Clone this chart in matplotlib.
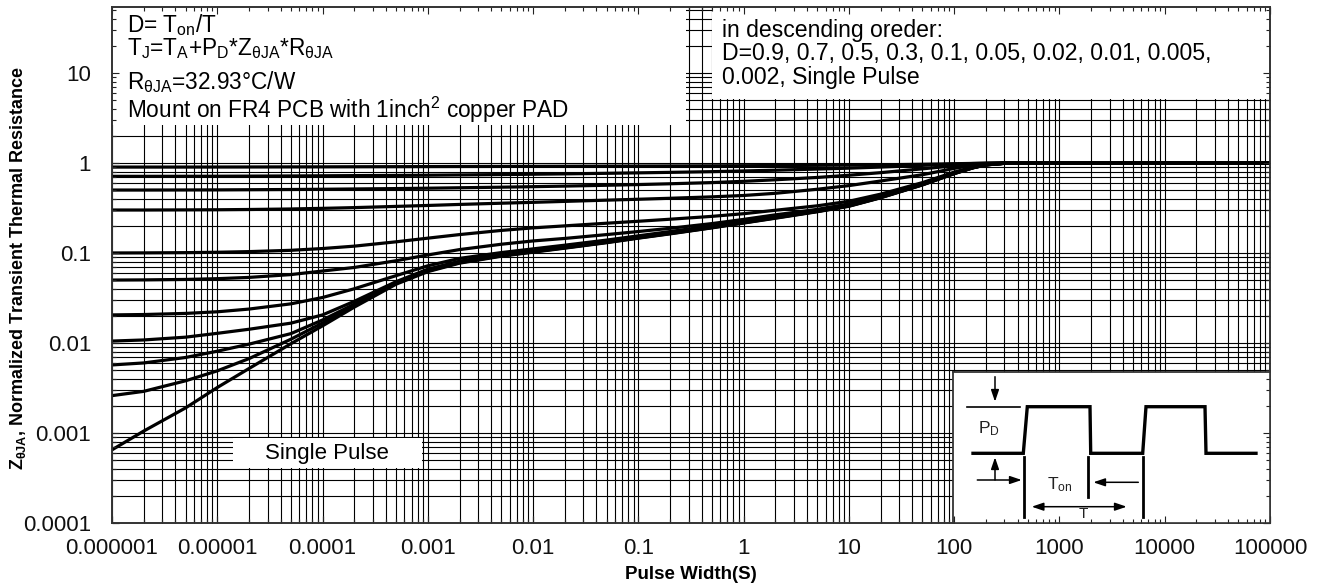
import numpy as np
import matplotlib
matplotlib.use('Agg')
import matplotlib.pyplot as plt
from matplotlib.patches import Rectangle
from matplotlib.ticker import LogLocator, FixedLocator, NullFormatter
from matplotlib.transforms import Affine2D

plt.rcParams['font.family'] = ['Liberation Sans', 'DejaVu Sans']
plt.rcParams['mathtext.fontset'] = 'custom'
plt.rcParams['mathtext.rm'] = 'Liberation Sans'
plt.rcParams['mathtext.it'] = 'Liberation Sans:italic'
plt.rcParams['mathtext.bf'] = 'Liberation Sans:bold'

# ---------------- data ----------------
pulse_width = [1e-6, 2e-6, 5e-6, 1e-5, 2e-5, 5e-5, 1e-4, 2e-4, 5e-4,
               1e-3, 2e-3, 5e-3, 1e-2, 2e-2, 5e-2, 0.1, 0.2, 0.5,
               1, 2, 5, 10, 20, 50, 100, 150, 200, 300, 500, 1000, 1e4, 1e5]

z_d09 = [0.9, 0.9, 0.9, 0.901, 0.902, 0.904, 0.905, 0.907, 0.909, 0.911, 0.913, 0.915,
         0.917, 0.919, 0.922, 0.924, 0.926, 0.929, 0.932, 0.936, 0.941, 0.946, 0.953, 0.967,
         0.98, 0.988, 0.994, 0.999, 1.0, 1.0, 1.0, 1.0]
z_d07 = [0.71, 0.71, 0.711, 0.712, 0.714, 0.717, 0.72, 0.723, 0.727, 0.731, 0.736, 0.743,
         0.749, 0.756, 0.767, 0.776, 0.786, 0.8, 0.815, 0.83, 0.855, 0.875, 0.9, 0.94,
         0.97, 0.985, 0.993, 1.0, 1.0, 1.0, 1.0, 1.0]
z_d05 = [0.5, 0.5, 0.501, 0.502, 0.504, 0.507, 0.51, 0.514, 0.519, 0.524, 0.53, 0.538,
         0.545, 0.553, 0.565, 0.575, 0.587, 0.605, 0.625, 0.65, 0.69, 0.73, 0.78, 0.86,
         0.93, 0.965, 0.985, 0.998, 1.0, 1.0, 1.0, 1.0]
z_d03 = [0.30, 0.30, 0.301, 0.302, 0.304, 0.308, 0.313, 0.319, 0.329, 0.337, 0.346, 0.357,
         0.365, 0.374, 0.386, 0.395, 0.405, 0.42, 0.435, 0.46, 0.51, 0.56, 0.63, 0.74,
         0.87, 0.94, 0.975, 0.995, 1.0, 1.0, 1.0, 1.0]
z_d01 = [0.1, 0.1002, 0.1008, 0.1018, 0.1035, 0.107, 0.112, 0.119, 0.133, 0.146, 0.16, 0.178,
         0.19, 0.2, 0.214, 0.225, 0.237, 0.255, 0.273, 0.298, 0.334, 0.375, 0.45, 0.605,
         0.79, 0.895, 0.958, 0.993, 1.0, 1.0, 1.0, 1.0]
z_d005 = [0.05, 0.0502, 0.0508, 0.0518, 0.0535, 0.0575, 0.063, 0.069, 0.082, 0.095, 0.109, 0.125,
          0.136, 0.145, 0.16, 0.173, 0.188, 0.212, 0.236, 0.265, 0.305, 0.35, 0.43, 0.59,
          0.778, 0.89, 0.955, 0.992, 1.0, 1.0, 1.0, 1.0]
z_d002 = [0.0205, 0.0207, 0.0213, 0.0222, 0.0238, 0.0272, 0.032, 0.04, 0.056, 0.072, 0.087, 0.101,
          0.111, 0.122, 0.139, 0.155, 0.173, 0.2, 0.226, 0.256, 0.298, 0.342, 0.423, 0.583,
          0.772, 0.888, 0.954, 0.992, 1.0, 1.0, 1.0, 1.0]
z_d001 = [0.0105, 0.0108, 0.0116, 0.0128, 0.0142, 0.0166, 0.0205, 0.029, 0.048, 0.066, 0.081, 0.096,
          0.106, 0.117, 0.134, 0.15, 0.168, 0.195, 0.221, 0.251, 0.293, 0.337, 0.418, 0.578,
          0.768, 0.886, 0.953, 0.991, 1.0, 1.0, 1.0, 1.0]
z_d0005 = [0.0057, 0.006, 0.0069, 0.0081, 0.0097, 0.0127, 0.018, 0.027, 0.047, 0.064, 0.079, 0.094,
           0.104, 0.115, 0.132, 0.148, 0.166, 0.193, 0.218, 0.248, 0.29, 0.334, 0.414, 0.575,
           0.765, 0.884, 0.952, 0.991, 1.0, 1.0, 1.0, 1.0]
z_d0002 = [0.0026, 0.0029, 0.0038, 0.0049, 0.0067, 0.011, 0.0167, 0.026, 0.046, 0.063, 0.078, 0.093,
           0.103, 0.114, 0.131, 0.147, 0.164, 0.191, 0.216, 0.245, 0.289, 0.332, 0.412, 0.572,
           0.762, 0.882, 0.951, 0.99, 1.0, 1.0, 1.0, 1.0]
z_single = [0.00065, 0.00105, 0.0019, 0.0032, 0.0052, 0.0098, 0.0155, 0.025, 0.045, 0.062, 0.077, 0.092,
            0.102, 0.113, 0.13, 0.146, 0.163, 0.19, 0.215, 0.243, 0.287, 0.33, 0.41, 0.57,
            0.76, 0.88, 0.95, 0.99, 1.0, 1.0, 1.0, 1.0]

curves = [z_d09, z_d07, z_d05, z_d03, z_d01, z_d005, z_d002, z_d001, z_d0005, z_d0002, z_single]

x_ticks = [1e-6, 1e-5, 1e-4, 1e-3, 1e-2, 1e-1, 1, 10, 100, 1000, 1e4, 1e5]
x_tick_labels = ['0.000001', '0.00001', '0.0001', '0.001', '0.01', '0.1',
                 '1', '10', '100', '1000', '10000', '100000']
y_ticks = [1e-4, 1e-3, 1e-2, 1e-1, 1, 10]
y_tick_labels = ['0.0001', '0.001', '0.01', '0.1', '1', '10']

info_lines = [r'D= T$_{\mathrm{on}}$/T',
              r'T$_{\mathrm{J}}$=T$_{\mathrm{A}}$+P$_{\mathrm{D}}$*Z$_{\mathrm{θJA}}$*R$_{\mathrm{θJA}}$',
              r'R$_{\mathrm{θJA}}$=32.93°C/W',
              r'Mount on FR4 PCB with 1inch$^{\mathrm{2}}$ copper PAD']
order_lines = ['in descending oreder:',
               'D=0.9, 0.7, 0.5, 0.3, 0.1, 0.05, 0.02, 0.01, 0.005,',
               '0.002, Single Pulse']

# ---------------- figure / layout (pixel units) ----------------
W, H = 1323, 584
fig = plt.figure(figsize=(W / 100, H / 100), dpi=100)
px = Affine2D().scale(1.0 / W, -1.0 / H).translate(0, 1) + fig.transFigure


def px_rect(x0, y0, x1, y1):
    return [x0 / W, 1 - y1 / H, (x1 - x0) / W, (y1 - y0) / H]


AX = (112, 7, 1270, 523)
ax = fig.add_axes(px_rect(*AX))
ax.set_zorder(0)
ax.set_xscale('log')
ax.set_yscale('log')
ax.set_xlim(1e-6, 1e5)
ax.set_ylim(1e-4, 54)


def setup_ticks(a):
    a.xaxis.set_major_locator(FixedLocator(x_ticks))
    a.yaxis.set_major_locator(FixedLocator(y_ticks))
    a.xaxis.set_minor_locator(LogLocator(base=10, subs=np.arange(2, 10), numticks=300))
    a.yaxis.set_minor_locator(LogLocator(base=10, subs=np.arange(2, 10), numticks=300))
    a.xaxis.set_minor_formatter(NullFormatter())
    a.yaxis.set_minor_formatter(NullFormatter())
    a.tick_params(which='both', direction='in', top=True, right=True,
                  color='#222222', width=0.8)
    a.tick_params(which='major', length=5)
    a.tick_params(which='minor', length=3)
    for s in a.spines.values():
        s.set_color('#333333')
        s.set_linewidth(1.2)


setup_ticks(ax)
ax.set_xticks(x_ticks, labels=x_tick_labels)
ax.set_yticks(y_ticks, labels=y_tick_labels)
ax.tick_params(labelsize=16, labelcolor='#111111')
ax.tick_params(axis='y', pad=15)
ax.tick_params(axis='x', pad=11)
ax.grid(True, which='both', color='black', linewidth=0.8)
ax.set_axisbelow(True)

for z in curves:
    ax.plot(pulse_width, z, color='black', linewidth=2.3, zorder=3,
            solid_capstyle='butt', solid_joinstyle='round')

# white boxes covering the grid
for (x0, y0, x1, y1) in [(112, 7, 686, 125), (712, 7, 1270, 99), (233, 438, 422, 468)]:
    ax.add_patch(Rectangle((x0, y0), x1 - x0, y1 - y0, transform=px,
                           facecolor='white', edgecolor='none', zorder=2, clip_on=False))

# first two info lines are set tightly, as one text block (baseline = last line)
ax.text(127, 55, info_lines[0] + '\n' + info_lines[1], transform=px, fontsize=16.3,
        va='baseline', ha='left', linespacing=0.88, zorder=4)
for txt, yb in zip(info_lines[2:], [89, 118]):
    ax.text(127, yb, txt, transform=px, fontsize=16.3, va='baseline', ha='left', zorder=4)
ax.text(722, 84, '\n'.join(order_lines), transform=px, fontsize=16.6,
        va='baseline', ha='left', linespacing=1.03, zorder=4)
ax.text(327, 454, 'Single Pulse', transform=px, fontsize=16, va='center', ha='center', zorder=4)

ax.set_xlabel('Pulse Width(S)', fontsize=13.5, fontweight='bold')
ax.xaxis.set_label_coords(691, 566, transform=px)
ax.set_ylabel(r'Z$_{\mathbf{θJA}}$, Normalized Transient Thermal Resistance',
              fontsize=13, fontweight='bold')
ax.yaxis.set_label_coords(28, 268, transform=px)

# ---------------- inset pulse diagram ----------------
INSET = (953, 372, 1270, 523)
axd = fig.add_axes(px_rect(*INSET))
axd.set_zorder(1)
axd.set_xlim(0, INSET[2] - INSET[0])
axd.set_ylim(INSET[3] - INSET[1], 0)
axd.set_xticks([])
axd.set_yticks([])
axd.set_facecolor('white')
for k, s in axd.spines.items():
    if k in ('left', 'top'):
        s.set_color('#333333')
        s.set_linewidth(1.3)
    else:
        s.set_visible(False)

wave_x = [20, 70.3, 74.3, 137, 137.7, 189.7, 193, 252, 253, 303]
wave_y = [81.3, 81.3, 34.7, 34.7, 81.3, 81.3, 34.7, 34.7, 81.3, 81.3]
axd.plot(wave_x, wave_y, color='black', lw=2.4, solid_joinstyle='miter')
axd.plot([14.3, 67], [34.7, 34.7], color='black', lw=1.2)
marker_x = [71, 135.3, 189.7]
marker_y1 = [145.3, 125.3, 145.3]
for mx, my in zip(marker_x, marker_y1):
    axd.plot([mx, mx], [85.3, my], color='black', lw=2.0)

arrow_kw = dict(arrowstyle='-|>,head_length=0.5,head_width=0.17', color='black', lw=1.1,
                shrinkA=0, shrinkB=0, mutation_scale=14)
axd.annotate('', xy=(42, 29.7), xytext=(42, 4.7), arrowprops=arrow_kw)
axd.annotate('', xy=(42, 85.3), xytext=(42, 108), arrowprops=arrow_kw)
axd.annotate('', xy=(68.7, 108), xytext=(24.3, 108), arrowprops=arrow_kw)
axd.annotate('', xy=(140.3, 110.3), xytext=(185.3, 110.3), arrowprops=arrow_kw)
dbl_kw = dict(arrow_kw)
dbl_kw['arrowstyle'] = '<|-|>,head_length=0.5,head_width=0.17'
axd.annotate('', xy=(173.7, 134.7), xytext=(78.7, 134.7), arrowprops=dbl_kw)

axd.text(36, 56.3, r'P$_{\mathrm{D}}$', fontsize=12.5, ha='center', va='center', color='#222222')
axd.text(107, 113, r'T$_{\mathrm{on}}$', fontsize=12.5, ha='center', va='center', color='#222222')
axd.text(130.3, 146.5, 'T', fontsize=11, ha='center', va='baseline', color='#222222')

# ---------------- overlay axes: ticks drawn over the white boxes ----------------
ax2 = fig.add_axes(px_rect(*AX))
ax2.set_zorder(2)
ax2.set_xscale('log')
ax2.set_yscale('log')
ax2.set_xlim(1e-6, 1e5)
ax2.set_ylim(1e-4, 54)
setup_ticks(ax2)
ax2.tick_params(which='both', labelbottom=False, labelleft=False, labeltop=False, labelright=False)
ax2.patch.set_visible(False)
ax2.grid(False)

fig.savefig('out.png', dpi=100)
